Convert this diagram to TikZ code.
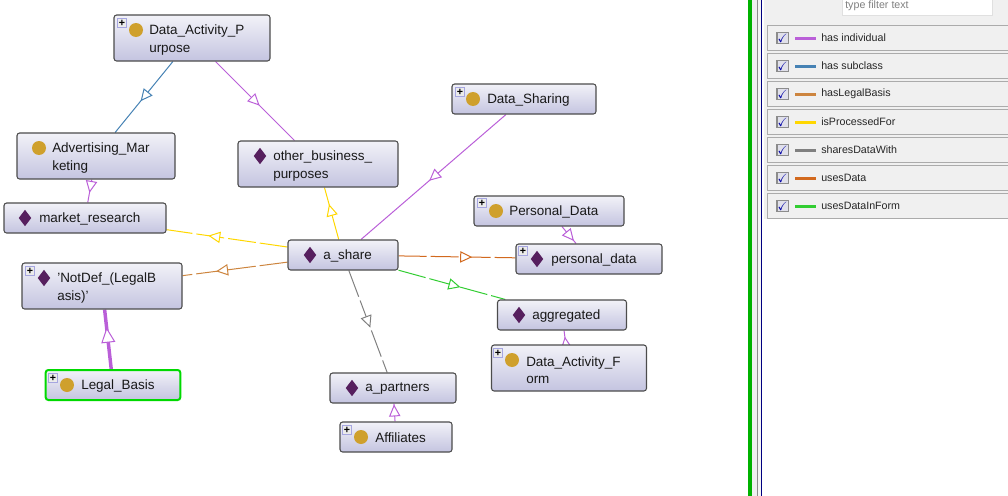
\documentclass[tikz,border=0pt]{standalone}
\usepackage{amssymb}
\usepackage{fontspec}
\setmainfont{Liberation Sans}
\usetikzlibrary{arrows.meta}
\usetikzlibrary{backgrounds}
\usetikzlibrary{decorations.markings}
\usetikzlibrary{shapes.geometric}

\definecolor{hasindividual}{HTML}{BA5FD8}
\definecolor{hassubclass}{HTML}{4682B4}
\definecolor{haslegal}{HTML}{CD853F}
\definecolor{processedfor}{HTML}{FFD700}
\definecolor{shareswith}{HTML}{808080}
\definecolor{usesdata}{HTML}{D2691E}
\definecolor{usesform}{HTML}{32CD32}
\definecolor{boxtop}{HTML}{F2F2F8}
\definecolor{boxbottom}{HTML}{C4C4E0}
\definecolor{classdot}{HTML}{CFA02C}
\definecolor{indivdot}{HTML}{561F5E}

\tikzset{
	entity/.style={draw=black!70,line width=0.8pt,rounded corners=2pt,top color=boxtop,bottom color=boxbottom,inner sep=0pt},
	classicon/.style={circle,fill=classdot,inner sep=0pt,minimum size=10.5pt},
	indivicon/.style={diamond,fill=indivdot,inner sep=0pt,minimum width=9.5pt,minimum height=12.5pt},
	plusbox/.style={draw=black!35!blue!35!white,fill=black!8,inner sep=0pt,minimum size=7pt,font=\fontsize{8}{8}\bfseries\selectfont},
	boxtext/.style={anchor=west,align=left,font=\fontsize{10.1}{12.8}\selectfont,text=black!90,inner sep=0pt},
	relation/.style={line width=0.75pt,postaction={decorate},decoration={markings,mark=at position #1 with {\arrow{Triangle[open,fill=white,length=9pt,width=8.5pt]}}}},
	bigrelation/.style={line width=2.6pt,postaction={decorate},decoration={markings,mark=at position #1 with {\arrow{Triangle[open,fill=white,line width=0.75pt,length=11.5pt,width=10.5pt]}}}},
	gapped/.style={dash pattern=on 21pt off 3pt},
	rowbox/.style={draw=black!33,line width=1pt,fill=black!6,inner sep=0pt,minimum height=19pt,minimum width=186pt,anchor=west},
	tickbox/.style={draw=black!45,line width=1pt,fill=blue!30!black!12,inner sep=0pt,minimum size=8.5pt,font=\fontsize{9}{9}\selectfont,text=blue!65!black},
	rowtext/.style={anchor=west,font=\fontsize{8}{9}\selectfont,text=black!85,inner sep=0pt},
}

\begin{document}
\begin{tikzpicture}[x=0.75pt,y=-0.75pt]
	\useasboundingbox (0,0) rectangle (1008,496);

	% entity boxes
	\node [entity,minimum width=117pt,minimum height=34.5pt] (purpose) at (192,38) {};
	\node [entity,minimum width=118.5pt,minimum height=34.5pt] (advert) at (96,156) {};
	\node [entity,minimum width=120pt,minimum height=34.5pt] (other) at (318,164) {};
	\node [entity,minimum width=121.5pt,minimum height=22.5pt] (market) at (85,218) {};
	\node [entity,minimum width=82.5pt,minimum height=22.5pt] (share) at (343,255) {};
	\node [entity,minimum width=120pt,minimum height=34.5pt] (notdef) at (102,286) {};
	\node [entity,draw=green!85!black,line width=1.5pt,minimum width=101pt,minimum height=22.5pt] (legal) at (113,385) {};
	\node [entity,minimum width=108pt,minimum height=22.5pt] (sharing) at (524,99) {};
	\node [entity,minimum width=112.5pt,minimum height=22.5pt] (personal) at (549,211) {};
	\node [entity,minimum width=109.5pt,minimum height=22.5pt] (pdata) at (589,259) {};
	\node [entity,minimum width=96.75pt,minimum height=22.5pt] (aggreg) at (562,315) {};
	\node [entity,minimum width=116.25pt,minimum height=34.5pt] (form) at (569,368) {};
	\node [entity,minimum width=94.5pt,minimum height=22.5pt] (partners) at (393,388) {};
	\node [entity,minimum width=84pt,minimum height=22.5pt] (affil) at (396,437) {};

	% relations
	\begin{scope}[on background layer]
		\draw [relation=0.56,hassubclass] (purpose) -- (advert);
		\draw [relation=0.56,hasindividual] (purpose) -- (other);
		\draw [relation=0.58,hasindividual] (advert) -- (market);
		\draw [relation=0.53,hasindividual] (sharing) -- (share);
		\draw [relation=0.85,hasindividual] (personal) -- (pdata);
		\draw [relation=0.95,hasindividual] (affil) -- (partners);
		\draw [relation=0.56,hasindividual] (form) -- (aggreg);
		\draw [bigrelation=0.7,hasindividual] (legal) -- (notdef);
		\draw [relation=0.68,gapped,processedfor] (share) -- (other);
		\draw [relation=0.655,gapped,processedfor] (share) -- (market);
		\draw [relation=0.68,gapped,haslegal] (share) -- (notdef);
		\draw [relation=0.63,gapped,usesdata] (share) -- (pdata);
		\draw [relation=0.58,gapped,usesform] (share) -- (aggreg);
		\draw [relation=0.56,gapped,shareswith] (share) -- (partners);
	\end{scope}

	% icons and texts
	\node [classicon] (purposeicon) at (136,30) {};
	\node [boxtext] (purposetext) at (149,40) {Data\_Activity\_P\\urpose};
	\node [plusbox] (purposeplus) at (122,23) {+};
	\node [classicon] (adverticon) at (39,148) {};
	\node [boxtext] (adverttext) at (52,158) {Advertising\_Mar\\keting};
	\node [indivicon] (othericon) at (260,156) {};
	\node [boxtext] (othertext) at (273,166) {other\_business\_\\purposes};
	\node [indivicon] (marketicon) at (25,218) {};
	\node [boxtext] (markettext) at (39,219) {market\_research};
	\node [indivicon] (shareicon) at (310,255) {};
	\node [boxtext] (sharetext) at (323,256) {a\_share};
	\node [indivicon] (notdeficon) at (44,278) {};
	\node [boxtext] (notdeftext) at (57,288) {\symbol{39}NotDef\_(LegalB\\asis)\symbol{39}};
	\node [plusbox] (notdefplus) at (30,271) {+};
	\node [classicon] (legalicon) at (67,385) {};
	\node [boxtext] (legaltext) at (81,386) {Legal\_Basis};
	\node [plusbox] (legalplus) at (53,378) {+};
	\node [classicon] (sharingicon) at (473,99) {};
	\node [boxtext] (sharingtext) at (487,100) {Data\_Sharing};
	\node [plusbox] (sharingplus) at (460,92) {+};
	\node [classicon] (personalicon) at (496,211) {};
	\node [boxtext] (personaltext) at (509,212) {Personal\_Data};
	\node [plusbox] (personalplus) at (482,203) {+};
	\node [indivicon] (pdataicon) at (537,259) {};
	\node [boxtext] (pdatatext) at (551,260) {personal\_data};
	\node [plusbox] (pdataplus) at (523,251) {+};
	\node [indivicon] (aggregicon) at (519,315) {};
	\node [boxtext] (aggregtext) at (532,316) {aggregated};
	\node [classicon] (formicon) at (512,360) {};
	\node [boxtext] (formtext) at (526,370) {Data\_Activity\_F\\orm};
	\node [plusbox] (formplus) at (498,353) {+};
	\node [indivicon] (partnersicon) at (352,388) {};
	\node [boxtext] (partnerstext) at (365,389) {a\_partners};
	\node [classicon] (affilicon) at (361,437) {};
	\node [boxtext] (affiltext) at (375,438) {Affiliates};
	\node [plusbox] (affilplus) at (347,430) {+};

	% side panel
	\fill [black!6] (764,0) rectangle (1008,219);
	\fill [black!6] (752,0) rectangle (757,496);
	\fill [black!4] (758,0) rectangle (761,496);
	\fill [green!70!black] (748,0) rectangle (751.5,496);
	\draw [black!45,line width=0.75pt] (757.5,0) -- (757.5,496);
	\draw [blue!50!black,line width=0.75pt] (761.5,0) -- (761.5,496);
	\node [draw=black!12,fill=white,minimum width=112.5pt,minimum height=15pt,inner sep=0pt] (filterbox) at (917,5) {};
	\node [rowtext,text=black!50] (filtertext) at (845,6) {type filter text};

	\foreach \y/\name/\col in {38/has individual/hasindividual,66/has subclass/hassubclass,94/hasLegalBasis/haslegal,122/isProcessedFor/processedfor,150/sharesDataWith/shareswith,178/usesData/usesdata,206/usesDataInForm/usesform} {
		\node [rowbox] (row\col) at (766.5,\y) {};
		\node [tickbox] (tick\col) at (782.5,\y) {$\checkmark$};
		\coordinate (left\col) at (795,\y);
		\coordinate (right\col) at (816,\y);
		\draw [\col,line width=2.25pt] (left\col) -- (right\col);
		\node [rowtext] (text\col) at (821,\y) {\name};
	}
\end{tikzpicture}
\end{document}
